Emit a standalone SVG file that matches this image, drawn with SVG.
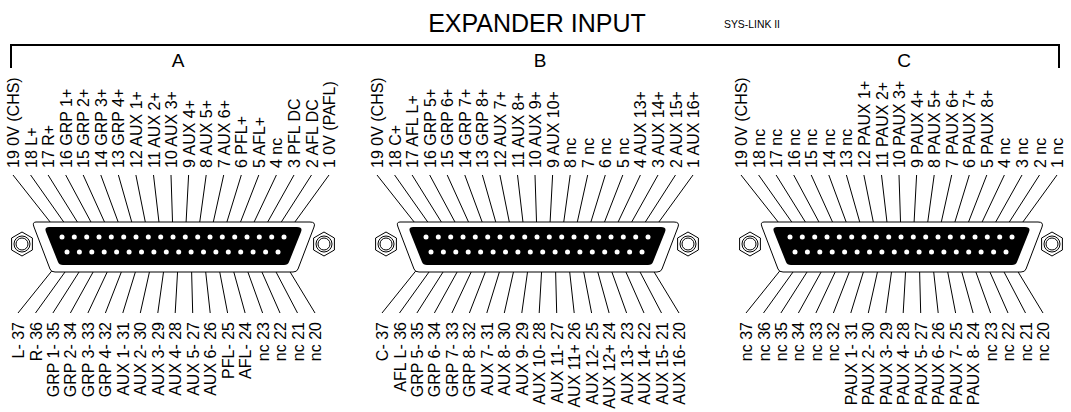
<svg xmlns="http://www.w3.org/2000/svg" xmlns:xlink="http://www.w3.org/1999/xlink" width="1071" height="412" viewBox="0 0 1071 412">
<style>
text{font-family:"Liberation Sans",Arial,sans-serif;fill:#000}
.tl text{font-size:16px}
.bl text{font-size:16px;text-anchor:end}
.ln{fill:none;stroke:#000;stroke-width:1}
.pin{fill:#fff}
</style>
<defs>
<g id="shell">
<path d="M36,222 H310 Q316,222 314,227 L298,269 Q297,272 293,272 H55 Q51,272 50,269 L34,227 Q32,222 36,222 Z" fill="#fff" stroke="#000" stroke-width="1"/>
<path d="M49,227 H297 Q303,227 301,232 L289,262 Q288,265 284,265 H63 Q59,265 58,262 L46,232 Q44,227 49,227 Z" fill="#000"/>
<g class="pin">
<circle cx="62" cy="237" r="2.5"/><circle cx="74.3" cy="237" r="2.5"/><circle cx="86.7" cy="237" r="2.5"/><circle cx="99" cy="237" r="2.5"/><circle cx="111.3" cy="237" r="2.5"/><circle cx="123.7" cy="237" r="2.5"/><circle cx="136" cy="237" r="2.5"/><circle cx="148.3" cy="237" r="2.5"/><circle cx="160.7" cy="237" r="2.5"/><circle cx="173" cy="237" r="2.5"/><circle cx="185.3" cy="237" r="2.5"/><circle cx="197.7" cy="237" r="2.5"/><circle cx="210" cy="237" r="2.5"/><circle cx="222.3" cy="237" r="2.5"/><circle cx="234.7" cy="237" r="2.5"/><circle cx="247" cy="237" r="2.5"/><circle cx="259.3" cy="237" r="2.5"/><circle cx="271.7" cy="237" r="2.5"/><circle cx="284" cy="237" r="2.5"/>
<circle cx="67" cy="252" r="2.5"/><circle cx="79.4" cy="252" r="2.5"/><circle cx="91.8" cy="252" r="2.5"/><circle cx="104.2" cy="252" r="2.5"/><circle cx="116.6" cy="252" r="2.5"/><circle cx="129.1" cy="252" r="2.5"/><circle cx="141.5" cy="252" r="2.5"/><circle cx="153.9" cy="252" r="2.5"/><circle cx="166.3" cy="252" r="2.5"/><circle cx="178.7" cy="252" r="2.5"/><circle cx="191.1" cy="252" r="2.5"/><circle cx="203.5" cy="252" r="2.5"/><circle cx="215.9" cy="252" r="2.5"/><circle cx="228.3" cy="252" r="2.5"/><circle cx="240.7" cy="252" r="2.5"/><circle cx="253.1" cy="252" r="2.5"/><circle cx="265.6" cy="252" r="2.5"/><circle cx="278" cy="252" r="2.5"/>
</g>
<g fill="#fff" stroke="#000" stroke-width="1">
<polygon points="22,232 32.4,238 32.4,250 22,256 11.6,250 11.6,238"/><circle cx="22" cy="244" r="8"/><circle cx="22" cy="244" r="6"/>
<polygon points="324,232 334.4,238 334.4,250 324,256 313.6,250 313.6,238"/><circle cx="324" cy="244" r="8"/><circle cx="324" cy="244" r="6"/>
</g>
</g>
<path id="wires" d="M13,175 L62,237 M30.6,175 L74.3,237 M48.1,175 L86.7,237 M65.7,175 L99,237 M83.2,175 L111.3,237 M100.8,175 L123.7,237 M118.4,175 L136,237 M135.9,175 L148.3,237 M153.5,175 L160.7,237 M171,175 L173,237 M188.6,175 L185.3,237 M206.2,175 L197.7,237 M223.7,175 L210,237 M241.3,175 L222.3,237 M258.8,175 L234.7,237 M276.4,175 L247,237 M294,175 L259.3,237 M311.5,175 L271.7,237 M329,175 L284,237 M18,313 L67,252 M35.5,313 L79.4,252 M52.9,313 L91.8,252 M70.4,313 L104.2,252 M87.9,313 L116.6,252 M105.4,313 L129.1,252 M122.8,313 L141.5,252 M140.3,313 L153.9,252 M157.8,313 L166.3,252 M175.2,313 L178.7,252 M192.7,313 L191.1,252 M210.2,313 L203.5,252 M227.6,313 L215.9,252 M245.1,313 L228.3,252 M262.6,313 L240.7,252 M280,313 L253.1,252 M297.5,313 L265.6,252 M315,313 L278,252"/>
</defs>

<g id="header">
<text x="537" y="32" font-size="25" text-anchor="middle">EXPANDER INPUT</text>
<text x="724" y="28" font-size="10.5" textLength="56" lengthAdjust="spacingAndGlyphs">SYS-LINK II</text>
<path d="M11,68 V45 H1059 V68" fill="none" stroke="#000" stroke-width="2"/>
</g>

<g id="connectors">
<use xlink:href="#wires" class="ln"/>
<use xlink:href="#wires" class="ln" transform="translate(364,0)"/>
<use xlink:href="#wires" class="ln" transform="translate(728,0)"/>
</g>

<g id="connA">
<use xlink:href="#shell"/>
<text x="178" y="67" font-size="19" text-anchor="middle">A</text>
<g class="tl">
<text transform="translate(19,168) rotate(-90)">19 0V (CHS)</text>
<text transform="translate(36.6,168) rotate(-90)">18 L+</text>
<text transform="translate(54.1,168) rotate(-90)">17 R+</text>
<text transform="translate(71.7,168) rotate(-90)">16 GRP 1+</text>
<text transform="translate(89.2,168) rotate(-90)">15 GRP 2+</text>
<text transform="translate(106.8,168) rotate(-90)">14 GRP 3+</text>
<text transform="translate(124.4,168) rotate(-90)">13 GRP 4+</text>
<text transform="translate(141.9,168) rotate(-90)">12 AUX 1+</text>
<text transform="translate(159.5,168) rotate(-90)">11 AUX 2+</text>
<text transform="translate(177,168) rotate(-90)">10 AUX 3+</text>
<text transform="translate(194.6,168) rotate(-90)">9 AUX 4+</text>
<text transform="translate(212.2,168) rotate(-90)">8 AUX 5+</text>
<text transform="translate(229.7,168) rotate(-90)">7 AUX 6+</text>
<text transform="translate(247.3,168) rotate(-90)">6 PFL+</text>
<text transform="translate(264.8,168) rotate(-90)">5 AFL+</text>
<text transform="translate(282.4,168) rotate(-90)">4 nc</text>
<text transform="translate(300,168) rotate(-90)">3 PFL DC</text>
<text transform="translate(317.5,168) rotate(-90)">2 AFL DC</text>
<text transform="translate(335,168) rotate(-90)">1 0V (PAFL)</text>
</g>
<g class="bl">
<text transform="translate(24,322) rotate(-90)">L- 37</text>
<text transform="translate(41.5,322) rotate(-90)">R- 36</text>
<text transform="translate(58.9,322) rotate(-90)">GRP 1- 35</text>
<text transform="translate(76.4,322) rotate(-90)">GRP 2- 34</text>
<text transform="translate(93.9,322) rotate(-90)">GRP 3- 33</text>
<text transform="translate(111.4,322) rotate(-90)">GRP 4- 32</text>
<text transform="translate(128.8,322) rotate(-90)">AUX 1- 31</text>
<text transform="translate(146.3,322) rotate(-90)">AUX 2- 30</text>
<text transform="translate(163.8,322) rotate(-90)">AUX 3- 29</text>
<text transform="translate(181.2,322) rotate(-90)">AUX 4- 28</text>
<text transform="translate(198.7,322) rotate(-90)">AUX 5- 27</text>
<text transform="translate(216.2,322) rotate(-90)">AUX 6- 26</text>
<text transform="translate(233.6,322) rotate(-90)">PFL- 25</text>
<text transform="translate(251.1,322) rotate(-90)">AFL- 24</text>
<text transform="translate(268.6,322) rotate(-90)">nc 23</text>
<text transform="translate(286,322) rotate(-90)">nc 22</text>
<text transform="translate(303.5,322) rotate(-90)">nc 21</text>
<text transform="translate(321,322) rotate(-90)">nc 20</text>
</g>
</g>

<g id="connB" transform="translate(364,0)">
<use xlink:href="#shell"/>
<text x="176" y="67" font-size="19" text-anchor="middle">B</text>
<g class="tl">
<text transform="translate(19,168) rotate(-90)">19 0V (CHS)</text>
<text transform="translate(36.6,168) rotate(-90)">18 C+</text>
<text transform="translate(54.1,168) rotate(-90)">17 AFL L+</text>
<text transform="translate(71.7,168) rotate(-90)">16 GRP 5+</text>
<text transform="translate(89.2,168) rotate(-90)">15 GRP 6+</text>
<text transform="translate(106.8,168) rotate(-90)">14 GRP 7+</text>
<text transform="translate(124.4,168) rotate(-90)">13 GRP 8+</text>
<text transform="translate(141.9,168) rotate(-90)">12 AUX 7+</text>
<text transform="translate(159.5,168) rotate(-90)">11 AUX 8+</text>
<text transform="translate(177,168) rotate(-90)">10 AUX 9+</text>
<text transform="translate(194.6,168) rotate(-90)">9 AUX 10+</text>
<text transform="translate(212.2,168) rotate(-90)">8 nc</text>
<text transform="translate(229.7,168) rotate(-90)">7 nc</text>
<text transform="translate(247.3,168) rotate(-90)">6 nc</text>
<text transform="translate(264.8,168) rotate(-90)">5 nc</text>
<text transform="translate(282.4,168) rotate(-90)">4 AUX 13+</text>
<text transform="translate(300,168) rotate(-90)">3 AUX 14+</text>
<text transform="translate(317.5,168) rotate(-90)">2 AUX 15+</text>
<text transform="translate(335,168) rotate(-90)">1 AUX 16+</text>
</g>
<g class="bl">
<text transform="translate(24,322) rotate(-90)">C- 37</text>
<text transform="translate(41.5,322) rotate(-90)">AFL L- 36</text>
<text transform="translate(58.9,322) rotate(-90)">GRP 5- 35</text>
<text transform="translate(76.4,322) rotate(-90)">GRP 6- 34</text>
<text transform="translate(93.9,322) rotate(-90)">GRP 7- 33</text>
<text transform="translate(111.4,322) rotate(-90)">GRP 8- 32</text>
<text transform="translate(128.8,322) rotate(-90)">AUX 7- 31</text>
<text transform="translate(146.3,322) rotate(-90)">AUX 8- 30</text>
<text transform="translate(163.8,322) rotate(-90)">AUX 9- 29</text>
<text transform="translate(181.2,322) rotate(-90)">AUX 10- 28</text>
<text transform="translate(198.7,322) rotate(-90)">AUX 11- 27</text>
<text transform="translate(216.2,322) rotate(-90)">AUX 11+ 26</text>
<text transform="translate(233.6,322) rotate(-90)">AUX 12- 25</text>
<text transform="translate(251.1,322) rotate(-90)">AUX 12+ 24</text>
<text transform="translate(268.6,322) rotate(-90)">AUX 13- 23</text>
<text transform="translate(286,322) rotate(-90)">AUX 14- 22</text>
<text transform="translate(303.5,322) rotate(-90)">AUX 15- 21</text>
<text transform="translate(321,322) rotate(-90)">AUX 16- 20</text>
</g>
</g>

<g id="connC" transform="translate(728,0)">
<use xlink:href="#shell"/>
<text x="176" y="67" font-size="19" text-anchor="middle">C</text>
<g class="tl">
<text transform="translate(19,168) rotate(-90)">19 0V (CHS)</text>
<text transform="translate(36.6,168) rotate(-90)">18 nc</text>
<text transform="translate(54.1,168) rotate(-90)">17 nc</text>
<text transform="translate(71.7,168) rotate(-90)">16 nc</text>
<text transform="translate(89.2,168) rotate(-90)">15 nc</text>
<text transform="translate(106.8,168) rotate(-90)">14 nc</text>
<text transform="translate(124.4,168) rotate(-90)">13 nc</text>
<text transform="translate(141.9,168) rotate(-90)">12 PAUX 1+</text>
<text transform="translate(159.5,168) rotate(-90)">11 PAUX 2+</text>
<text transform="translate(177,168) rotate(-90)">10 PAUX 3+</text>
<text transform="translate(194.6,168) rotate(-90)">9 PAUX 4+</text>
<text transform="translate(212.2,168) rotate(-90)">8 PAUX 5+</text>
<text transform="translate(229.7,168) rotate(-90)">7 PAUX 6+</text>
<text transform="translate(247.3,168) rotate(-90)">6 PAUX 7+</text>
<text transform="translate(264.8,168) rotate(-90)">5 PAUX 8+</text>
<text transform="translate(282.4,168) rotate(-90)">4 nc</text>
<text transform="translate(300,168) rotate(-90)">3 nc</text>
<text transform="translate(317.5,168) rotate(-90)">2 nc</text>
<text transform="translate(335,168) rotate(-90)">1 nc</text>
</g>
<g class="bl">
<text transform="translate(24,322) rotate(-90)">nc 37</text>
<text transform="translate(41.5,322) rotate(-90)">nc 36</text>
<text transform="translate(58.9,322) rotate(-90)">nc 35</text>
<text transform="translate(76.4,322) rotate(-90)">nc 34</text>
<text transform="translate(93.9,322) rotate(-90)">nc 33</text>
<text transform="translate(111.4,322) rotate(-90)">nc 32</text>
<text transform="translate(128.8,322) rotate(-90)">PAUX 1- 31</text>
<text transform="translate(146.3,322) rotate(-90)">PAUX 2- 30</text>
<text transform="translate(163.8,322) rotate(-90)">PAUX 3- 29</text>
<text transform="translate(181.2,322) rotate(-90)">PAUX 4- 28</text>
<text transform="translate(198.7,322) rotate(-90)">PAUX 5- 27</text>
<text transform="translate(216.2,322) rotate(-90)">PAUX 6- 26</text>
<text transform="translate(233.6,322) rotate(-90)">PAUX 7- 25</text>
<text transform="translate(251.1,322) rotate(-90)">PAUX 8- 24</text>
<text transform="translate(268.6,322) rotate(-90)">nc 23</text>
<text transform="translate(286,322) rotate(-90)">nc 22</text>
<text transform="translate(303.5,322) rotate(-90)">nc 21</text>
<text transform="translate(321,322) rotate(-90)">nc 20</text>
</g>
</g>
</svg>
